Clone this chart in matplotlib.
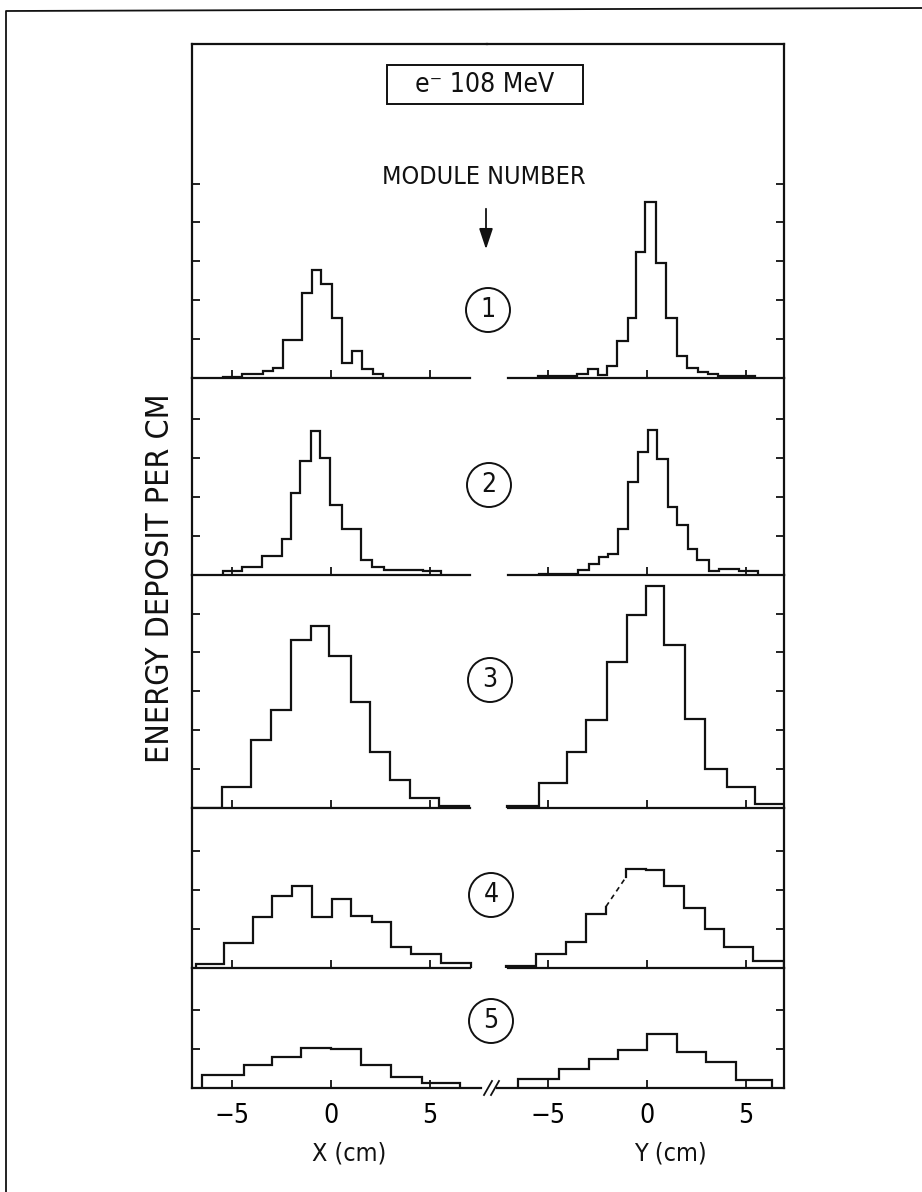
import numpy as np
import matplotlib
matplotlib.use('Agg')
import matplotlib.pyplot as plt
from matplotlib.lines import Line2D
from matplotlib.patches import Ellipse, Rectangle, FancyArrowPatch

FONT = ['DejaVu Sans']
plt.rcParams['font.family'] = FONT
plt.rcParams['font.stretch'] = 'condensed'

# ---------------- data (energy deposit per cm, arbitrary units) ----------------
MODULES = ['1', '2', '3', '4', '5']
TITLE = 'e\u207b 108 MeV'
X_TICKS = [-5, 0, 5]
X_TICK_LABELS = ['\u22125', '0', '5']
Y_TICK_COUNTS = [5, 4, 5, 3, 2]

# Module 1
X1_EDGES = [-5.45, -4.48, -3.43, -2.93, -2.42, -1.48, -0.94, -0.49, 0.03, 0.54, 1.08, 1.58, 2.12, 2.63]
X1_VALS = [0.03, 0.09, 0.17, 0.25, 0.97, 2.18, 2.77, 2.41, 1.53, 0.39, 0.69, 0.22, 0.11]
Y1_EDGES = [-5.53, -3.54, -2.98, -2.47, -2.00, -1.49, -0.98, -0.54, -0.10, 0.44, 0.95, 1.54, 2.02, 2.56, 3.07, 3.61, 5.44]
Y1_VALS = [0.04, 0.09, 0.22, 0.07, 0.30, 0.94, 1.53, 3.24, 4.52, 2.96, 1.55, 0.56, 0.26, 0.15, 0.09, 0.05]

# Module 2
X2_EDGES = [-5.46, -4.49, -3.47, -2.46, -2.00, -1.56, -1.02, -0.56, -0.05, 0.56, 1.49, 2.07, 2.68, 4.66, 5.56]
X2_VALS = [0.11, 0.20, 0.49, 0.92, 2.10, 2.92, 3.69, 3.02, 1.80, 1.19, 0.39, 0.21, 0.13, 0.09]
Y2_EDGES = [-5.47, -3.47, -2.93, -2.41, -1.95, -1.47, -0.97, -0.46, 0.05, 0.51, 1.05, 1.54, 2.05, 2.54, 3.14, 3.64, 4.66, 5.59]
Y2_VALS = [0.03, 0.14, 0.28, 0.45, 0.54, 1.18, 2.38, 3.17, 3.73, 2.98, 1.76, 1.29, 0.68, 0.38, 0.11, 0.16, 0.09]

# Module 3
X3_EDGES = [-7.00, -5.53, -4.02, -3.04, -2.02, -1.03, -0.12, 0.99, 1.95, 2.97, 3.97, 5.46, 6.97]
X3_VALS = [0.01, 0.54, 1.75, 2.53, 4.31, 4.69, 3.90, 2.72, 1.43, 0.72, 0.25, 0.06]
Y3_EDGES = [-7.05, -5.45, -4.04, -3.07, -2.03, -1.02, -0.07, 0.87, 1.93, 2.95, 4.02, 5.45, 6.95]
Y3_VALS = [0.05, 0.64, 1.44, 2.27, 3.75, 4.97, 5.70, 4.19, 2.29, 0.99, 0.55, 0.10]

# Module 4 (Y bin 4 is drawn dashed, from DASH start to DASH end)
X4_EDGES = [-6.82, -5.42, -3.96, -2.98, -1.97, -0.96, 0.05, 1.03, 2.07, 3.05, 4.06, 5.56, 7.05]
X4_VALS = [0.09, 0.64, 1.30, 1.85, 2.10, 1.32, 1.77, 1.33, 1.19, 0.53, 0.36, 0.13]
Y4_EDGES = [-7.11, -5.61, -4.08, -3.10, -2.07, -1.07, -0.03, 0.88, 1.87, 2.93, 3.88, 5.36, 6.94]
Y4_VALS = [0.04, 0.36, 0.67, 1.38, np.nan, 2.54, 2.52, 2.11, 1.53, 1.00, 0.53, 0.18]
Y4_DASH_BIN = 4
Y4_DASH = [1.58, 2.33]

# Module 5
X5_EDGES = [-6.50, -4.40, -2.96, -1.52, 0.00, 1.52, 3.02, 4.60, 6.50]
X5_VALS = [0.34, 0.60, 0.80, 1.02, 1.00, 0.60, 0.27, 0.12]
Y5_EDGES = [-6.50, -4.45, -2.94, -1.45, 0.02, 1.50, 3.00, 4.50, 6.33]
Y5_VALS = [0.22, 0.50, 0.74, 0.97, 1.38, 0.92, 0.68, 0.20]

X_DATA = [(X1_EDGES, X1_VALS), (X2_EDGES, X2_VALS), (X3_EDGES, X3_VALS), (X4_EDGES, X4_VALS), (X5_EDGES, X5_VALS)]
Y_DATA = [(Y1_EDGES, Y1_VALS), (Y2_EDGES, Y2_VALS), (Y3_EDGES, Y3_VALS), (Y4_EDGES, Y4_VALS), (Y5_EDGES, Y5_VALS)]

# ---------------- layout (pixels) ----------------
W, H = 922, 1192
fig = plt.figure(figsize=(W / 100, H / 100), dpi=100)


def fx(px):
    return px / W


def fy(py):
    return 1 - py / H


BOX_L, BOX_MID, BOX_R = 192, 487, 784
ZERO_L, ZERO_R = 331, 647
PX_PER_CM = 19.8
PANEL_TOP = [44, 378, 575, 808, 968]
PANEL_BOT = [378, 575, 808, 968, 1088]
UNIT_PX = 38.9
LW = 1.6
INK = '#111111'

for row in range(5):
    top, bot = PANEL_TOP[row], PANEL_BOT[row]
    for col in range(2):
        if col == 0:
            l, r, z = BOX_L, BOX_MID, ZERO_L
        else:
            l, r, z = BOX_MID, BOX_R, ZERO_R
        ax = fig.add_axes([fx(l), fy(bot), (r - l) / W, (bot - top) / H])
        ax.patch.set_visible(False)
        x0, x1 = (l - z) / PX_PER_CM, (r - z) / PX_PER_CM
        ax.set_xlim(x0, x1)
        ax.set_ylim(0, (bot - top) / UNIT_PX)

        for s in ax.spines.values():
            s.set_linewidth(LW)
            s.set_color(INK)
            s.set_capstyle('projecting')
        ax.spines['top'].set_visible(row == 0)
        ax.spines['left'].set_visible(col == 0)
        ax.spines['right'].set_visible(col == 1)
        ext = 7.6 if row == 4 else 7.0
        if col == 0:
            ax.spines['bottom'].set_bounds(x0, ext)
        else:
            ax.spines['bottom'].set_bounds(-ext, x1)

        ax.set_yticks(range(1, Y_TICK_COUNTS[row] + 1))
        if col == 1:
            ax.yaxis.tick_right()
        ax.tick_params(axis='y', direction='in', length=6, width=1.3, color=INK,
                       labelleft=False, labelright=False)
        ax.set_xticks(X_TICKS)
        ax.tick_params(axis='x', direction='in', length=6, width=1.3, color=INK,
                       top=False, pad=11, labelsize=19)
        if row == 4:
            ax.set_xticklabels(X_TICK_LABELS)
        else:
            ax.set_xticklabels([])

        edges, vals = (X_DATA if col == 0 else Y_DATA)[row]
        edges = np.asarray(edges)
        vals = np.asarray(vals, dtype=float)
        if col == 1 and row == 3:
            k = Y4_DASH_BIN
            xa = np.repeat(edges[:k + 1], 2)
            ya = np.concatenate([[0], np.repeat(vals[:k], 2), [Y4_DASH[0]]])
            ax.plot(xa, ya, color=INK, lw=LW, solid_joinstyle='miter')
            xb = np.repeat(edges[k + 1:], 2)
            yb = np.concatenate([[Y4_DASH[1]], np.repeat(vals[k + 1:], 2), [0]])
            ax.plot(xb, yb, color=INK, lw=LW, solid_joinstyle='miter')
            ax.plot(edges[k:k + 2], Y4_DASH, color=INK, lw=1.2, ls=(0, (3, 2.5)))
        else:
            ax.stairs(vals, edges, baseline=0, color=INK, lw=LW)

# ---------------- annotations ----------------
# outer page frame
fig.add_artist(Line2D([fx(6), fx(6), fx(922)], [fy(1192), fy(11), fy(8)],
                      transform=fig.transFigure, color=INK, lw=1.3))

# title box
fig.add_artist(Rectangle((fx(387), fy(104)), (583 - 387) / W, (104 - 65) / H,
                         transform=fig.transFigure, fill=False, lw=1.4, ec=INK))
fig.text(fx(485), fy(85), TITLE, ha='center', va='center', fontsize=19, color=INK)

fig.text(fx(484), fy(177), 'MODULE NUMBER', ha='center', va='center', fontsize=18, color=INK)
fig.add_artist(FancyArrowPatch((fx(486), fy(206)), (fx(486), fy(252)),
                               transform=fig.transFigure, color=INK, lw=1.3,
                               arrowstyle='-|>,head_length=0.9,head_width=0.3',
                               mutation_scale=14))

CIRCLES = [(488, 310), (489, 485), (490, 680), (491, 895), (491, 1021)]
for (cx, cy), label in zip(CIRCLES, MODULES):
    fig.add_artist(Ellipse((fx(cx), fy(cy)), 44 / W, 44 / H, transform=fig.transFigure,
                           fill=False, lw=1.4, ec=INK))
    fig.text(fx(cx), fy(cy), label, ha='center', va='center', fontsize=19, color=INK)

# axis break mark
for dx in (0, 7):
    fig.add_artist(Line2D([fx(484 + dx), fx(492 + dx)], [fy(1095), fy(1081)],
                          transform=fig.transFigure, color=INK, lw=1.3))

fig.text(fx(160), fy(578), 'ENERGY DEPOSIT PER CM', rotation=90,
         ha='center', va='center', fontsize=23, color=INK)
fig.text(fx(349), fy(1153), 'X (cm)', ha='center', va='center', fontsize=18, color=INK)
fig.text(fx(670), fy(1153), 'Y (cm)', ha='center', va='center', fontsize=18, color=INK)

fig.savefig('out.png', dpi=100, facecolor='white')
